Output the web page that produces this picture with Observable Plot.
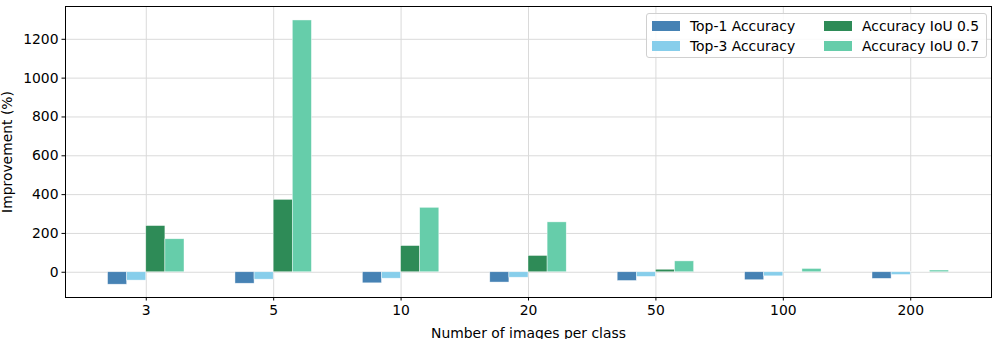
<!DOCTYPE html>
<html>
<head>
<meta charset="utf-8">
<script src="https://cdn.jsdelivr.net/npm/d3@7"></script>
<script src="https://cdn.jsdelivr.net/npm/@observablehq/plot@0.6"></script>
<style>
  html, body { margin: 0; padding: 0; background: #fff; }
  #wrap { position: relative; width: 996px; height: 339px; font-family: "DejaVu Sans", sans-serif; }
  #wrap svg text { font-size: 13.9px; }
  #legend {
    position: absolute; left: 646px; top: 13px; width: 341px; height: 45px;
    box-sizing: border-box; border: 1px solid #d0d0d0; border-radius: 3px;
    background: rgba(255,255,255,0.85);
    display: grid; grid-template-columns: 172px 160px; grid-auto-rows: 20px;
    padding: 2px 0 0 5px; font-size: 13.9px; color: #000;
  }
  #legend .item { display: flex; align-items: center; }
  #legend .sw { width: 28px; height: 10px; margin-right: 10px; }
</style>
</head>
<body>
<div id="wrap"></div>
<script>
const categories = ["3", "5", "10", "20", "50", "100", "200"];
const seriesNames = ["Top-1 Accuracy", "Top-3 Accuracy", "Accuracy IoU 0.5", "Accuracy IoU 0.7"];
const seriesColors = ["#4682B4", "#87CEEB", "#2E8B57", "#66CDAA"];
const top1 = [-64, -59, -57, -53, -45, -41, -34];
const top3 = [-43, -38, -33, -28, -24, -21, -14];
const iou05 = [238, 373, 135, 84, 13, 1, 0.5];
const iou07 = [170, 1297, 332, 257, 56, 17, 9];
const yTicks = [0, 200, 400, 600, 800, 1000, 1200];

const seriesValues = [top1, top3, iou05, iou07];
const barWidth = 0.15;
const rows = [];
seriesValues.forEach((vals, k) => {
  vals.forEach((v, i) => {
    rows.push({i, k, series: seriesNames[k], value: v,
      x1: i + (k - 2) * barWidth, x2: i + (k - 1) * barWidth});
  });
});
const idx = categories.map((_, i) => i);

const chart = Plot.plot({
  width: 996,
  height: 339,
  marginLeft: 65,
  marginRight: 5,
  marginTop: 6,
  marginBottom: 42,
  style: {fontFamily: "DejaVu Sans", fontSize: "13.9px", color: "#000", background: "#fff"},
  x: {type: "linear", domain: [-0.634, 6.634]},
  y: {domain: [-130, 1369]},
  color: {domain: seriesNames, range: seriesColors},
  marks: [
    Plot.gridX(idx, {stroke: "#dadada", strokeOpacity: 1, strokeWidth: 1}),
    Plot.gridY(yTicks, {stroke: "#dadada", strokeOpacity: 1, strokeWidth: 1}),
    Plot.rect(rows, {x1: "x1", x2: "x2", y1: 0, y2: "value", fill: "series",
      stroke: "white", strokeWidth: 0.6, strokeOpacity: 0.7}),
    Plot.axisX(idx, {tickFormat: i => categories[i], tickSize: 3.5, tickPadding: 4,
      label: "Number of images per class", labelAnchor: "center", labelArrow: "none", labelOffset: 40}),
    Plot.axisY(yTicks, {tickFormat: d => String(d), tickSize: 3.5, tickPadding: 3.5,
      label: "Improvement (%)", labelAnchor: "center", labelArrow: "none", labelOffset: 63}),
    Plot.frame({stroke: "black", strokeWidth: 1})
  ]
});
const wrap = document.getElementById("wrap");
wrap.appendChild(chart);

const legend = document.createElement("div");
legend.id = "legend";
// column-major order: col1 = Top-1, Top-3 ; col2 = IoU 0.5, IoU 0.7
const order = [0, 2, 1, 3];
order.forEach(k => {
  const it = document.createElement("div");
  it.className = "item";
  const sw = document.createElement("span");
  sw.className = "sw";
  sw.style.background = seriesColors[k];
  const tx = document.createElement("span");
  tx.textContent = seriesNames[k];
  it.appendChild(sw); it.appendChild(tx);
  legend.appendChild(it);
});
wrap.appendChild(legend);
</script>
</body>
</html>
